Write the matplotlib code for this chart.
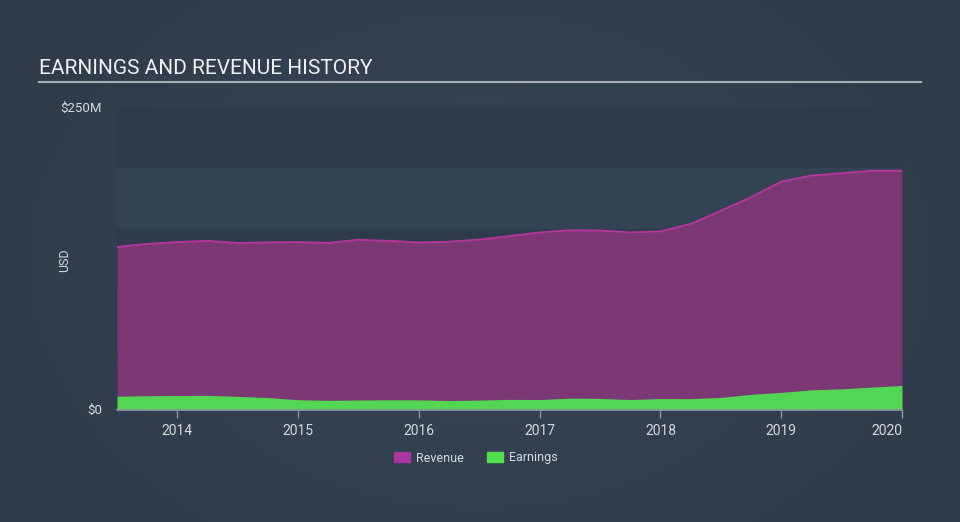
#!/usr/bin/env python3
import numpy as np
import matplotlib

matplotlib.use("Agg")
import matplotlib.pyplot as plt
from matplotlib.patches import Patch

# quarterly points, decimal years
dates = [
    2013.5, 2013.75, 2014.0, 2014.25, 2014.5, 2014.75, 2015.0, 2015.25, 2015.5,
    2015.75, 2016.0, 2016.25, 2016.5, 2016.75, 2017.0, 2017.25, 2017.5, 2017.75,
    2018.0, 2018.25, 2018.5, 2018.75, 2019.0, 2019.25, 2019.5, 2019.75, 2020.0,
]
# USD millions
revenue = [
    135, 137.5, 139, 140, 138.3, 138.7, 139, 138.3, 140.9,
    140, 138.6, 139.3, 141, 144, 147, 148.8, 148.6, 147,
    147.8, 154, 165, 176, 189, 194, 196, 198, 198,
]
earnings = [
    11.4, 11.8, 12.0, 12.1, 11.3, 10.3, 8.5, 8.0, 8.3,
    8.4, 8.4, 7.8, 8.2, 8.8, 8.7, 9.8, 9.6, 8.7,
    9.5, 9.4, 10.4, 13.0, 14.6, 16.7, 17.5, 19.0, 20.3,
]
year_ticks = [2014, 2015, 2016, 2017, 2018, 2019, 2020]

FONT = "Roboto"
W, H = 960, 522

fig = plt.figure(figsize=(W / 100, H / 100), dpi=100)

# background with a soft gradient (lighter in the middle)
bg = fig.add_axes([0, 0, 1, 1], zorder=-10)
gx = np.linspace(-1, 1, 400)
gy = np.linspace(-1, 1, 220)
GX, GY = np.meshgrid(gx, gy)
r = np.clip(np.sqrt(GX ** 2 * 0.9 + GY ** 2 * 0.5), 0, 1)
c0 = np.array([0x36, 0x45, 0x56]) / 255.0
c1 = np.array([0x30, 0x3c, 0x4a]) / 255.0
img = c0[None, None, :] * (1 - r[..., None]) + c1[None, None, :] * r[..., None]
bg.imshow(img, aspect="auto", extent=[0, 1, 0, 1], interpolation="bilinear")
bg.set_axis_off()

ax = fig.add_axes([117 / W, 1 - 410 / H, 785 / W, 302 / H])
ax.set_facecolor("none")

# horizontal bands
for lo in range(0, 250, 50):
    col = "#2e3b4a" if (lo // 50) % 2 == 0 else "#344353"
    ax.axhspan(lo, lo + 50, color=col, lw=0, zorder=0)

ax.fill_between(dates, 0, revenue, color="#7b3875", lw=0, zorder=2)
ax.plot(dates, revenue, color="#b4369d", lw=1.4, zorder=3)
ax.fill_between(dates, 0, earnings, color="#52d654", lw=0, zorder=4)

ax.set_xlim(2013.5, 2020.0)
ax.set_ylim(0, 250)
ax.set_xticks(year_ticks)
ax.set_xticklabels([str(y) for y in year_ticks], fontsize=10,
                   color="#d5d9de", family=FONT)
ax.get_xticklabels()[-1].set_ha("right")
ax.set_yticks([])
ax.tick_params(axis="x", length=6, width=1, color="#8a95a3", pad=4)
for s in ["top", "right", "left"]:
    ax.spines[s].set_visible(False)
ax.spines["bottom"].set_color("#8a95a3")
ax.spines["bottom"].set_linewidth(1.2)
ax.spines["bottom"].set_zorder(6)

# y labels
fig.text(102 / W, 1 - 108 / H, "$250M", ha="right", va="center",
         fontsize=9.5, color="#d5d9de", family=FONT)
fig.text(102 / W, 1 - 410 / H, "$0", ha="right", va="center",
         fontsize=9.5, color="#d5d9de", family=FONT)
fig.text(65 / W, 1 - 260 / H, "USD", ha="center", va="center", rotation=90,
         fontsize=9, color="#d5d9de", family=FONT)

# title and underline
fig.text(39 / W, 1 - 69 / H, "EARNINGS AND REVENUE HISTORY", ha="left",
         va="center", fontsize=15, color="#eef0f2", family=FONT)
fig.add_artist(plt.Line2D([39 / W, 921 / W], [1 - 82 / H, 1 - 82 / H],
                          color="#a9aeb5", lw=1.5))

# legend
handles = [Patch(color="#a9379d", label="Revenue"),
           Patch(color="#52e052", label="Earnings")]
leg = fig.legend(handles=handles, loc="center", bbox_to_anchor=(476 / W, 1 - 458 / H),
                 ncol=2, frameon=False, handlelength=1.3,
                 handleheight=0.9, handletextpad=0.5, columnspacing=1.8,
                 prop={"family": FONT, "size": 9})
for t in leg.get_texts():
    t.set_color("#d5d9de")

fig.savefig("out.png", dpi=100, facecolor=fig.get_facecolor())
